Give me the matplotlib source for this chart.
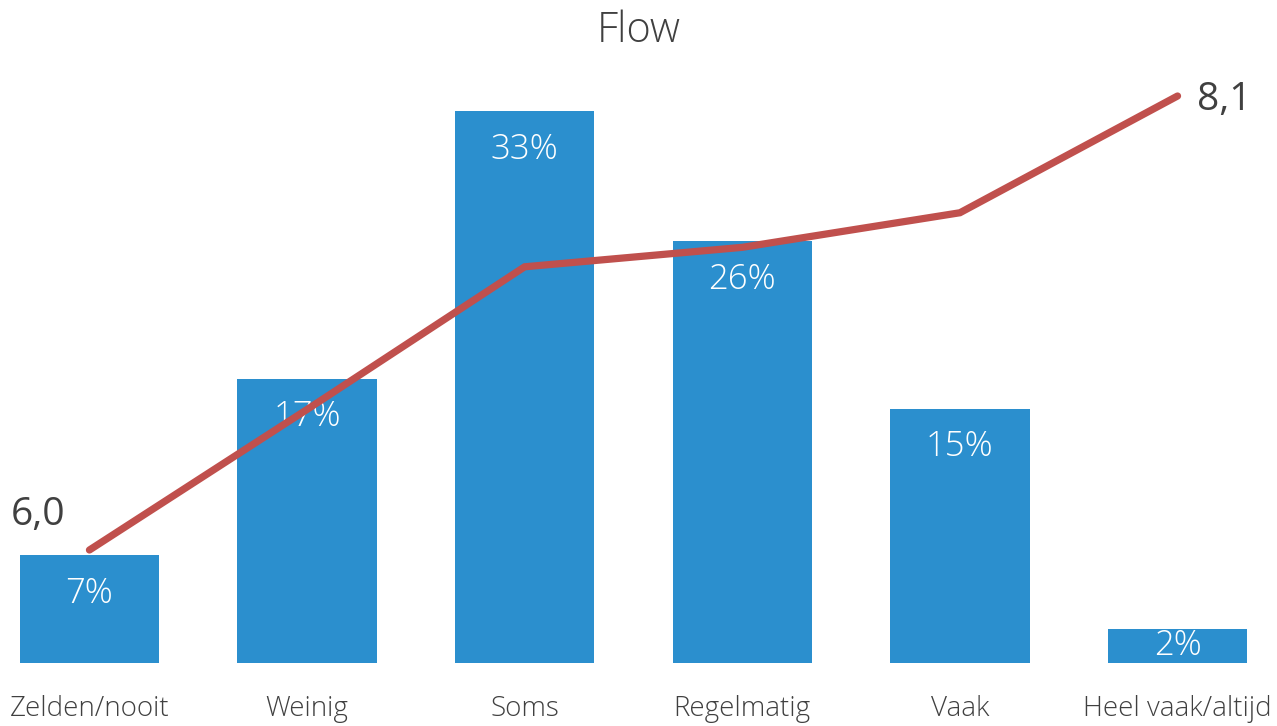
import matplotlib.pyplot as plt
import numpy as np

# dados
categorias = ["Zelden/nooit", "Weinig", "Soms", "Regelmatig", "Vaak", "Heel vaak/altijd"]
percentagens = [6.44, 17.0, 33.0, 25.24, 15.21, 2.03]
rotulos_barras = ["7%", "17%", "33%", "26%", "15%", "2%"]
flow_score = [6.0, 6.65, 7.31, 7.40, 7.56, 8.1]
rotulos_linha = ["6,0", "8,1"]

AZUL = "#2B8FCE"
VERMELHO = "#C0504D"
CINZA = "#404040"
FONTE = ["Open Sans", "DejaVu Sans"]

plt.rcParams["font.family"] = FONTE

W, H = 1277, 726
fig = plt.figure(figsize=(W / 100, H / 100), dpi=100)
fig.patch.set_facecolor("white")

# eixo ocupa toda a largura; base das barras em y=663 px, topo em y=60 px
base_px, topo_px = 663, 60
ax = fig.add_axes([0, (H - base_px) / H, 1, (base_px - topo_px) / H])

x = np.arange(len(categorias))
ax.bar(x, percentagens, width=0.64, color=AZUL, zorder=1)
ax.set_xlim(-0.411, 5.457)
px_por_pct = 551.6 / 33.0
ax.set_ylim(0, (base_px - topo_px) / px_por_pct)

for i, (v, txt) in enumerate(zip(percentagens, rotulos_barras)):
    if v < 5:
        ax.annotate(txt, (i, v / 2), ha="center", va="center",
                    color="white", fontsize=25, fontweight="light")
    else:
        ax.annotate(txt, (i, v), xytext=(0, -27.5), textcoords="offset points",
                    ha="center", va="center", color="white", fontsize=25,
                    fontweight="light")

for lado in ["top", "right", "left", "bottom"]:
    ax.spines[lado].set_visible(False)
ax.set_yticks([])
ax.set_xticks(x)
ax.set_xticklabels(categorias, fontsize=20, color=CINZA, fontweight="light")
ax.tick_params(axis="x", length=0, pad=23)

# eixo secundário para a linha
ax2 = ax.twinx()
px_por_ponto = (550 - 96) / 2.1
y_min = 6.0 - (base_px - 550) / px_por_ponto
y_max = 8.1 + (96 - topo_px) / px_por_ponto
ax2.set_ylim(y_min, y_max)
ax2.plot(x, flow_score, color=VERMELHO, linewidth=5.2,
         solid_capstyle="round", solid_joinstyle="miter", zorder=3)
ax2.set_yticks([])
for lado in ["top", "right", "left", "bottom"]:
    ax2.spines[lado].set_visible(False)

ax2.annotate(rotulos_linha[0], (x[0], flow_score[0]), xytext=(-57, 25),
             textcoords="offset points", ha="left", va="center",
             fontsize=28, color=CINZA)
ax2.annotate(rotulos_linha[1], (x[-1], flow_score[-1]), xytext=(14, -3),
             textcoords="offset points", ha="left", va="center",
             fontsize=28, color=CINZA)

fig.text(0.5, 1 - 31 / H, "Flow", ha="center", va="center",
         fontsize=30, color=CINZA, fontweight="light")

fig.savefig("out.png", dpi=100, facecolor="white")
